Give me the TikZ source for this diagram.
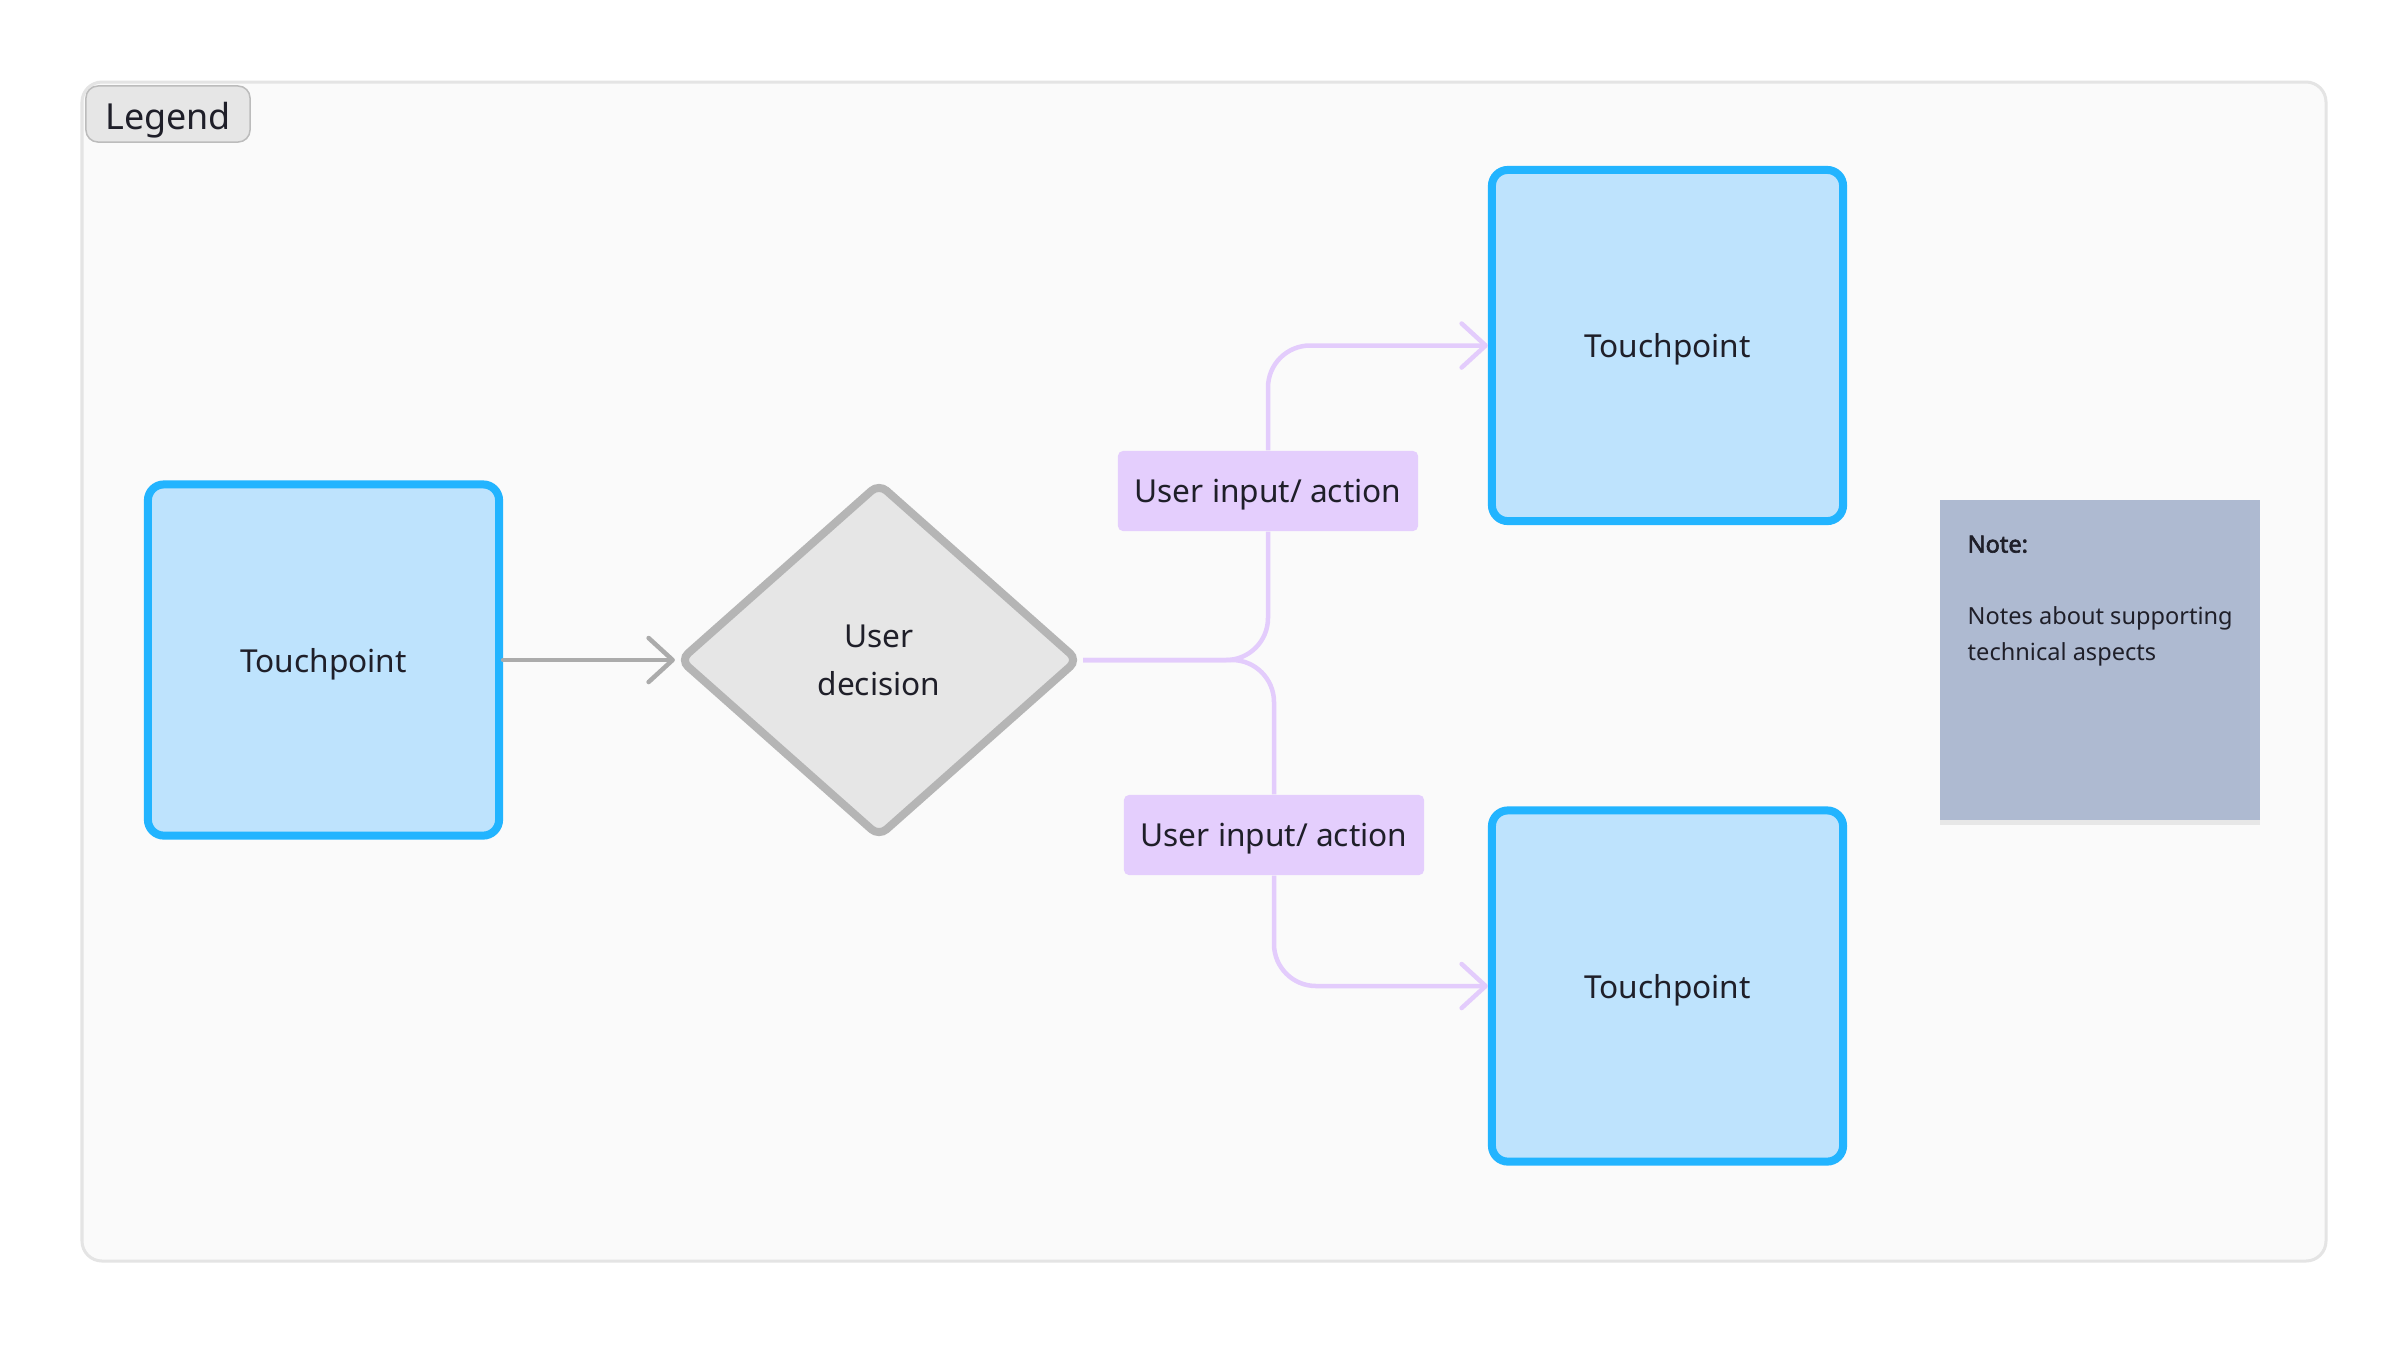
\documentclass[tikz,border=0pt]{standalone}
\usepackage{fontspec}
\setmainfont{Noto Sans}[AutoFakeBold=2.5]
\usetikzlibrary{positioning,shapes.geometric,arrows.meta,shadows}

\definecolor{tpblue}{HTML}{22B4FF}
\definecolor{tpfill}{HTML}{BEE3FD}
\definecolor{decgray}{HTML}{B5B5B5}
\definecolor{decfill}{HTML}{E6E6E6}
\definecolor{arrowgray}{HTML}{ABABAB}
\definecolor{lilac}{HTML}{E3CCFC}
\definecolor{lilacfill}{HTML}{E4CEFD}
\definecolor{notefill}{HTML}{AEBAD1}
\definecolor{ink}{HTML}{1F1F29}
\definecolor{framegray}{HTML}{E4E4E4}
\definecolor{canvas}{HTML}{FAFAFA}

\begin{document}
\begin{tikzpicture}[x=0.01cm,y=-0.01cm,
    every node/.style={text=ink,inner sep=0pt,font=\fontsize{9}{13.7}\selectfont},
    touch/.style={draw=tpblue,fill=tpfill,line width=0.8mm,rounded corners=1.6mm,
      minimum width=3.51cm,minimum height=3.51cm,text depth=0pt},
    decide/.style={diamond,draw=decgray,fill=decfill,line width=0.8mm,
      rounded corners=1mm,minimum width=4cm,minimum height=3.55cm,align=center},
    act/.style={fill=lilacfill,rounded corners=0.5mm,minimum width=3cm,
      minimum height=0.8cm,text depth=0pt},
    >={Straight Barb[length=2.4mm,width=4.4mm,round]}]
  \fill[white] (0,0) rectangle (2408,1344);
  \draw[framegray,fill=canvas,line width=0.3mm,rounded corners=2mm]
    (82,82) rectangle (2326,1261);

  \node[draw=decgray!90,fill=decfill,line width=0.15mm,rounded corners=1.2mm,
    minimum width=1.64cm,minimum height=0.56cm,text depth=0pt,text height=0.9em,
    font=\fontsize{10.2}{12}\selectfont] (legend) at (168,114) {Legend};

  \foreach \n/\x/\y in {tp1/323.5/660, tp2/1667.5/345.5, tp3/1667.5/986}
    \node[touch] (\n) at (\x,\y) {Touchpoint};

  \node[decide] (dec) at (879,660) {User\\decision};
  \node[act] (act1) at (1268,491) {User input/ action};
  \node[act] (act2) at (1274,835) {User input/ action};

  \node[fill=notefill,minimum width=3.2cm,minimum height=3.2cm,
    drop shadow={shadow xshift=0mm,shadow yshift=-0.5mm,opacity=0.15}]
    (note) at (2100,660) {};
  \node[anchor=north west,align=left,font=\fontsize{6.7}{10.2}\selectfont]
    (notetxt) at (1967,535)
    {\textbf{Note:}\\[10.2pt]Notes about supporting\\technical aspects};

  \draw[arrowgray,line width=0.45mm,line cap=round,->] (tp1) -- (dec);
  \foreach \a/\s/\e/\t in {act1/south/north/tp2, act2/north/south/tp3} {
    \draw[lilac,line width=0.45mm,rounded corners=4.2mm] (dec.east) -| (\a.\s);
    \draw[lilac,line width=0.45mm,rounded corners=4.2mm,->] (\a.\e) |- (\t);
  }
\end{tikzpicture}
\end{document}
